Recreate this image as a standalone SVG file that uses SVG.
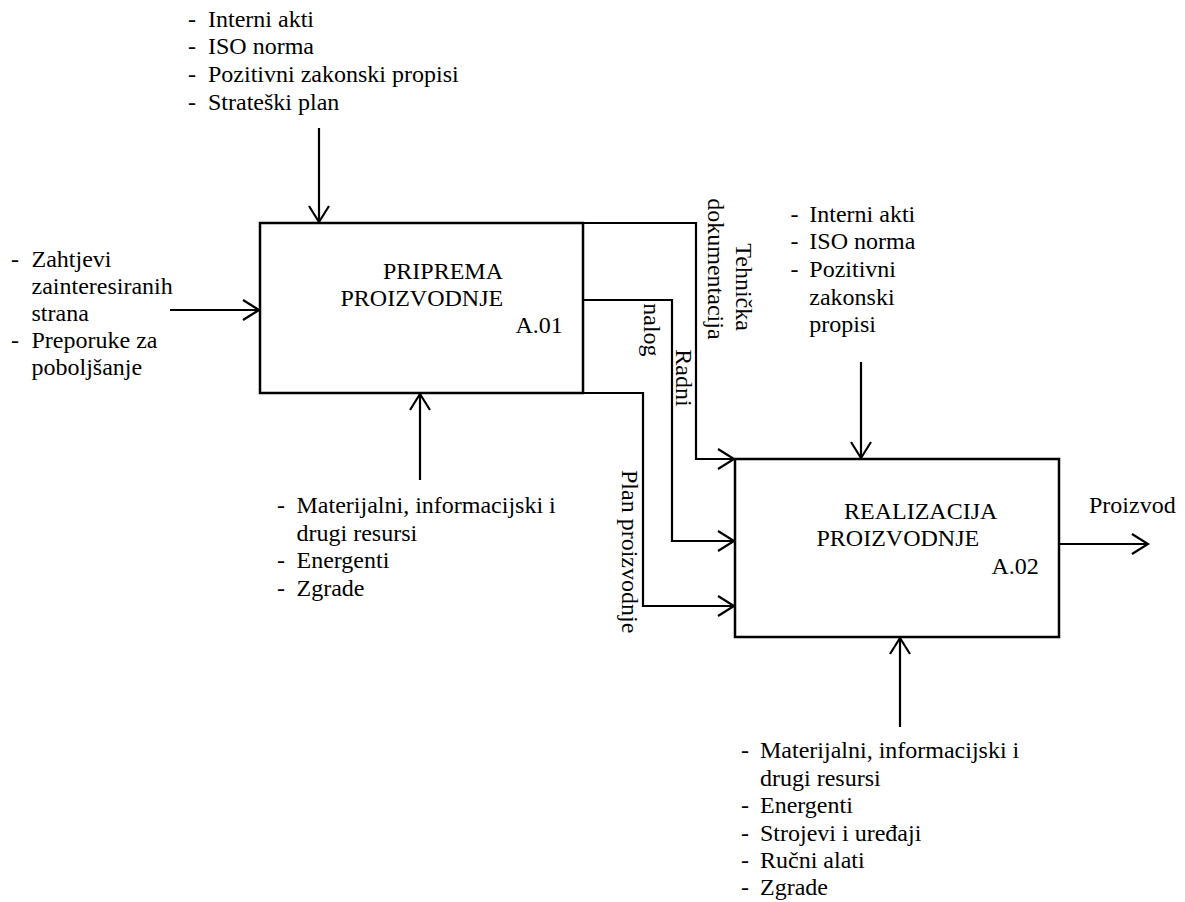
<svg xmlns="http://www.w3.org/2000/svg" width="1185" height="902" viewBox="0 0 1185 902">
<style>
  text { font-family: "Liberation Serif", "Times New Roman", serif; font-size: 24px; fill: #000; }
  .box { fill: #fff; stroke: #000; stroke-width: 2.5; }
  .con { fill: none; stroke: #000; stroke-width: 2.2; }
</style>
<defs>
  <marker id="arr" markerUnits="userSpaceOnUse" markerWidth="24" markerHeight="24" viewBox="-18 -12 20 24" refX="0" refY="0" orient="auto">
    <path d="M -16 -10 L 0 0 L -16 10" fill="none" stroke="#000" stroke-width="2.2"/>
  </marker>
</defs>
<rect width="1185" height="902" fill="#fff"/>

<g id="connectors">
  <line class="con" x1="319" y1="128" x2="319" y2="222" marker-end="url(#arr)"/>
  <line class="con" x1="170" y1="310" x2="259" y2="310" marker-end="url(#arr)"/>
  <line class="con" x1="420" y1="480" x2="420" y2="394" marker-end="url(#arr)"/>
  <polyline class="con" points="583,223 696,223 696,459 734,459" marker-end="url(#arr)"/>
  <polyline class="con" points="583,300 672,300 672,541 734,541" marker-end="url(#arr)"/>
  <polyline class="con" points="583,393 643,393 643,606 734,606" marker-end="url(#arr)"/>
  <line class="con" x1="861" y1="362" x2="861" y2="458" marker-end="url(#arr)"/>
  <line class="con" x1="1059" y1="544" x2="1148" y2="544" marker-end="url(#arr)"/>
  <line class="con" x1="900" y1="727" x2="900" y2="638" marker-end="url(#arr)"/>
</g>

<g id="node-a01">
  <rect class="box" x="260" y="223" width="323" height="170"/>
  <text x="383" y="279">PRIPREMA</text>
  <text x="340.5" y="306">PROIZVODNJE</text>
  <text x="515.5" y="333">A.01</text>
</g>

<g id="node-a02">
  <rect class="box" x="735" y="459" width="324" height="178"/>
  <text x="844" y="518.5">REALIZACIJA</text>
  <text x="816.5" y="546">PROIZVODNJE</text>
  <text x="991.5" y="573.5">A.02</text>
</g>

<g id="label-controls-a01">
  <text x="188" y="26.7">-</text><text x="208" y="26.7">Interni akti</text>
  <text x="188" y="54.3">-</text><text x="208" y="54.3">ISO norma</text>
  <text x="188" y="81.9">-</text><text x="208" y="81.9">Pozitivni zakonski propisi</text>
  <text x="188" y="109.5">-</text><text x="208" y="109.5">Strateški plan</text>
</g>

<g id="label-inputs-a01">
  <text x="11" y="266.5">-</text><text x="31.5" y="266.5">Zahtjevi</text>
  <text x="31.5" y="293.7">zainteresiranih</text>
  <text x="31.5" y="320.9">strana</text>
  <text x="11" y="348.1">-</text><text x="31.5" y="348.1">Preporuke za</text>
  <text x="31.5" y="375.3">poboljšanje</text>
</g>

<g id="label-mechanisms-a01">
  <text x="277" y="513.3">-</text><text x="296.5" y="513.3">Materijalni, informacijski i</text>
  <text x="296.5" y="540.7">drugi resursi</text>
  <text x="277" y="568.1">-</text><text x="296.5" y="568.1">Energenti</text>
  <text x="277" y="595.5">-</text><text x="296.5" y="595.5">Zgrade</text>
</g>

<g id="label-controls-a02">
  <text x="790.5" y="221.7">-</text><text x="809.3" y="221.7">Interni akti</text>
  <text x="790.5" y="249.3">-</text><text x="809.3" y="249.3">ISO norma</text>
  <text x="790.5" y="276.9">-</text><text x="809.3" y="276.9">Pozitivni</text>
  <text x="809.3" y="304.5">zakonski</text>
  <text x="809.3" y="332.1">propisi</text>
</g>

<g id="label-mechanisms-a02">
  <text x="741" y="758.3">-</text><text x="760" y="758.3">Materijalni, informacijski i</text>
  <text x="760" y="785.7">drugi resursi</text>
  <text x="741" y="813.1">-</text><text x="760" y="813.1">Energenti</text>
  <text x="741" y="840.5">-</text><text x="760" y="840.5">Strojevi i uređaji</text>
  <text x="741" y="867.9">-</text><text x="760" y="867.9">Ručni alati</text>
  <text x="741" y="895.3">-</text><text x="760" y="895.3">Zgrade</text>
</g>

<g id="label-output">
  <text x="1089" y="512.7">Proizvod</text>
</g>

<g id="label-flows">
  <text transform="translate(736,243.3) rotate(90)">Tehnička</text>
  <text transform="translate(707.5,198.3) rotate(90)">dokumentacija</text>
  <text transform="translate(675.8,349.3) rotate(90)">Radni</text>
  <text transform="translate(643.5,303.3) rotate(90)">nalog</text>
  <text transform="translate(622.4,470) rotate(90)">Plan proizvodnje</text>
</g>
</svg>
